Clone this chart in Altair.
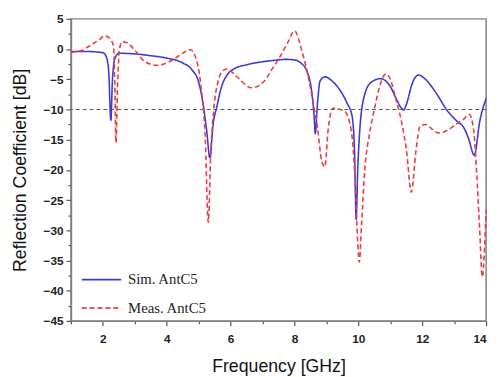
import altair as alt
import pandas as pd

# Simulated (solid blue)
sim_x = [1.0, 1.5, 2.0, 2.1, 2.18, 2.25, 2.3, 2.38, 2.5, 3.0, 3.5, 4.0, 4.5, 4.8, 5.0,
         5.15, 5.25, 5.35, 5.45, 5.57, 5.7, 5.9, 6.1, 6.5, 7.0, 7.5, 7.7, 8.0, 8.2, 8.4,
         8.55, 8.62, 8.65, 8.72, 8.8, 8.95, 9.2, 9.45, 9.65, 9.8, 9.88, 9.93, 9.98, 10.05,
         10.2, 10.4, 10.7, 11.0, 11.2, 11.35, 11.42, 11.5, 11.7, 11.88, 12.1, 12.4, 12.8,
         13.1, 13.3, 13.45, 13.63, 13.8, 14.0]
sim_y = [-0.4, -0.4, -0.6, -1.2, -3.5, -11.8, -5.0, -1.5, -0.7, -0.8, -1.1, -1.5, -2.3,
         -3.5, -5.5, -9.5, -13.5, -18.0, -12.5, -9.5, -6.5, -4.2, -3.3, -2.6, -2.1, -1.8,
         -1.7, -1.8, -2.3, -3.8, -7.5, -11.5, -14.0, -9.0, -5.3, -4.6, -5.4, -7.0, -9.0,
         -11.0, -17.0, -28.2, -20.0, -13.0, -7.5, -5.5, -4.9, -6.2, -8.4, -9.8, -10.1,
         -9.2, -5.5, -4.3, -5.0, -7.0, -10.3, -12.0, -13.0, -14.8, -17.6, -12.0, -8.2]

# Measured (dashed red)
meas_x = [1.0, 1.3, 1.6, 1.9, 2.06, 2.25, 2.33, 2.37, 2.41, 2.46, 2.52, 2.6, 2.74, 3.0,
          3.3, 3.7, 4.0, 4.3, 4.55, 4.74, 4.95, 5.1, 5.2, 5.3, 5.38, 5.47, 5.6, 5.72,
          5.88, 6.2, 6.65, 6.9, 7.1, 7.3, 7.5, 7.8, 8.0, 8.24, 8.4, 8.58, 8.72, 8.85,
          8.95, 9.05, 9.2, 9.57, 9.78, 9.9, 9.97, 10.03, 10.1, 10.2, 10.35, 10.5, 10.65,
          10.86, 11.0, 11.17, 11.35, 11.5, 11.66, 11.8, 11.93, 12.1, 12.3, 12.5, 12.8,
          13.1, 13.3, 13.47, 13.6, 13.7, 13.8, 13.88, 13.95, 14.0]
meas_y = [-0.5, -0.3, 0.6, 1.6, 2.2, 1.5, 0.5, -5.0, -15.5, -6.0, 0.0, 1.2, 1.1, -0.2,
          -2.0, -2.7, -2.3, -1.4, -0.5, -0.1, -2.2, -7.5, -14.0, -28.7, -17.0, -10.0,
          -5.5, -3.8, -3.3, -4.6, -6.4, -6.0, -5.0, -3.3, -1.7, 1.2, 3.0, -0.5, -3.8,
          -8.7, -13.0, -18.5, -19.5, -13.5, -9.8, -10.3, -13.6, -22.0, -31.0, -35.3,
          -29.0, -20.0, -14.0, -10.0, -6.5, -4.1, -5.0, -8.2, -12.0, -16.5, -23.7, -17.0,
          -12.8, -12.5, -13.2, -13.9, -13.4, -12.3, -11.6, -10.8, -13.0, -20.0, -30.0,
          -37.7, -33.0, -26.6]

series_names = ["Sim. AntC5", "Meas. AntC5"]
series_colors = ["#3b3bd4", "#ee3b3b"]

x_ticks = list(range(1, 15))
y_ticks = [v * 2.5 for v in range(-18, 3)]
threshold = [-10]

df = pd.concat([
    pd.DataFrame({"f": sim_x, "s11": sim_y, "series": series_names[0], "ord": 0}),
    pd.DataFrame({"f": meas_x, "s11": meas_y, "series": series_names[1], "ord": 1}),
])
thr = pd.DataFrame({"s11": threshold})

y_axis = alt.Axis(title="Reflection Coefficient [dB]", values=y_ticks, labelOverlap=False,
                  labelExpr="datum.value % 5 == 0 ? datum.label : ''",
                  tickSize=alt.ExprRef(expr="datum.value % 5 == 0 ? 5 : 3"),
                  labelPadding=3, titlePadding=14, grid=False)
y_scale = alt.Scale(domain=[-45, 5], nice=False, zero=False)

x_enc = alt.X("f:Q", scale=alt.Scale(domain=[1, 14], nice=False, zero=False),
              axis=alt.Axis(title="Frequency [GHz]", values=x_ticks, labelOverlap=False,
                            labelExpr="datum.value % 2 == 0 ? datum.label : ''",
                            tickSize=alt.ExprRef(expr="datum.value % 2 == 0 ? 5 : 3"),
                            labelPadding=8, titlePadding=13, grid=False))
y_enc = alt.Y("s11:Q", scale=y_scale, axis=y_axis)

leg = dict(title=None, orient="none", legendX=10, legendY=244,
           symbolType="stroke", symbolSize=1600, symbolStrokeWidth=1.8,
           labelFont="Liberation Serif", labelFontSize=15, labelColor="#222",
           labelOffset=6, rowPadding=-22)

lines = alt.Chart(df).mark_line(strokeWidth=1.6, interpolate="monotone").encode(
    x=x_enc,
    y=y_enc,
    color=alt.Color("series:N", sort=series_names,
                    scale=alt.Scale(domain=series_names, range=series_colors),
                    legend=alt.Legend(**leg)),
    strokeDash=alt.StrokeDash("series:N", sort=series_names,
                              scale=alt.Scale(domain=series_names, range=[[1, 0], [5, 3]]),
                              legend=alt.Legend(**leg)),
    order=alt.Order("ord:Q"),
    detail="series:N",
)

rule = alt.Chart(thr).mark_rule(color="#555555", strokeDash=[4, 3], strokeWidth=1).encode(
    y=alt.Y("s11:Q", scale=y_scale, axis=y_axis)
)

chart = alt.layer(rule, lines).properties(
    width=422, height=307,
    autosize=alt.AutoSizeParams(type="none"),
    padding={"left": 64, "top": 8, "right": 6, "bottom": 54},
).configure_view(
    stroke="#808080", strokeWidth=1.5
).configure_axis(
    domainColor="#808080", domainWidth=1.5, tickColor="#555555", tickWidth=1.2,
    labelOverlap=False,
    labelFont="Liberation Sans", labelFontSize=12, labelFontWeight="bold", labelColor="#222",
    titleFont="Liberation Sans", titleFontSize=18, titleFontWeight="normal", titleColor="#111",
)

chart.save("out.html", embed_options={"renderer": "svg", "actions": False})
